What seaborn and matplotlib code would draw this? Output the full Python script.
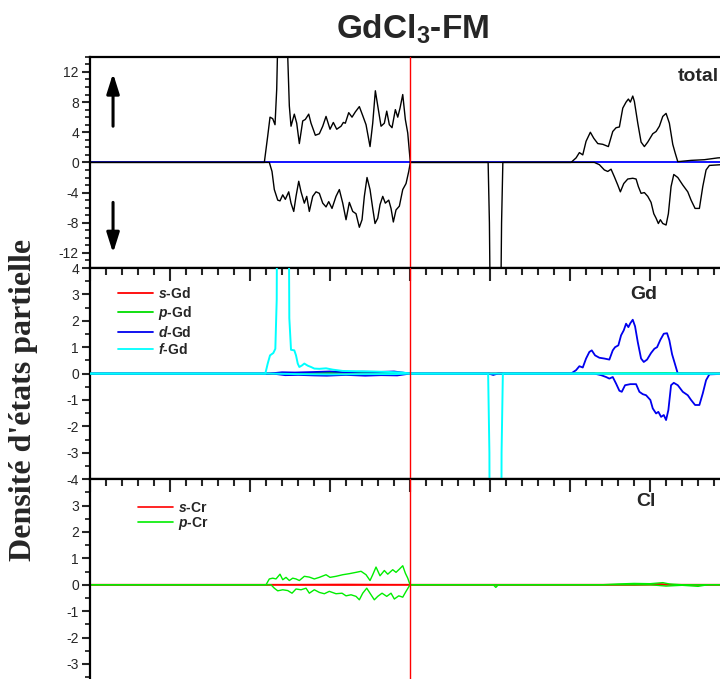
import numpy as np
import matplotlib
matplotlib.use("Agg")
import matplotlib.pyplot as plt
from matplotlib.lines import Line2D
from matplotlib.ticker import MultipleLocator
import seaborn as sns

# energy E - EF (eV) and DOS (states/eV)

# --- total DOS ---
tot_up_e = [-10, -4.553, -4.447, -4.375, -4.291, -4.219, -4.166, -4.134, -4.063, -3.969, -3.875,
            -3.822, -3.772, -3.719, -3.616, -3.541, -3.459, -3.353, -3.272, -3.166, -3.094, -2.959,
            -2.834, -2.728, -2.625, -2.5, -2.397, -2.291, -2.156, -2.084, -2.022, -1.916, -1.813,
            -1.709, -1.584, -1.478, -1.375, -1.25, -1.166, -1.084, -1.009, -0.906, -0.803, -0.728,
            -0.647, -0.563, -0.459, -0.384, -0.313, -0.228, -0.147, -0.072, 0.009,
            5.031, 5.188, 5.291, 5.397, 5.5, 5.634, 5.741, 5.866, 6.022, 6.197, 6.334, 6.438, 6.541,
            6.647, 6.75, 6.822, 6.884, 6.959, 7.009, 7.116, 7.219, 7.322, 7.428, 7.584, 7.688, 7.791,
            7.897, 8.0, 8.103, 8.209, 8.281, 8.366, 8.781, 9.197, 9.616, 10.03]
tot_up = [0, 0, 3.5, 6.0, 5.8, 5.0, 9.7, 16.0, 21.0, 22.0, 19.0,
          14.1, 7.5, 4.8, 6.4, 5.2, 2.5, 5.5, 5.7, 6.4, 5.2, 3.6,
          3.8, 4.8, 6.1, 4.4, 5.3, 4.4, 4.8, 5.3, 5.2, 6.6, 6.0,
          6.7, 7.4, 6.2, 5.0, 2.1, 5.2, 9.5, 7.5, 4.8, 5.2, 6.8,
          5.0, 4.6, 7.0, 6.0, 7.2, 9.0, 5.7, 3.9, 0,
          0, 0.6, 1.3, 1.0, 2.8, 4.0, 3.2, 2.5, 2.4, 2.1, 4.1, 4.6, 4.7,
          7.2, 8.0, 8.4, 8.0, 8.8, 8.1, 5.2, 2.7, 2.1, 2.7, 3.8, 4.1, 4.8,
          6.1, 6.5, 5.2, 2.4, 1.3, 0.1, 0.27, 0.36, 0.6, 0.7]

tot_dn_e = [-10, -4.397, -4.313, -4.241, -4.134, -4.063, -3.978, -3.897, -3.791, -3.719, -3.634,
            -3.563, -3.478, -3.406, -3.303, -3.228, -3.147, -3.041, -2.938, -2.834, -2.728, -2.625,
            -2.541, -2.438, -2.313, -2.209, -2.103, -2.0, -1.897, -1.791, -1.688, -1.584, -1.5,
            -1.428, -1.344, -1.25, -1.166, -1.094, -1.009, -0.938, -0.853, -0.772, -0.666, -0.594,
            -0.522, -0.438, -0.334, -0.228, -0.125, -0.041, 0.009,
            2.44, 2.48, 2.52, 2.82, 2.86, 2.90,
            5.759, 5.916, 6.072, 6.178, 6.281, 6.384, 6.491, 6.572, 6.678, 6.803, 6.959, 7.063,
            7.134, 7.219, 7.322, 7.428, 7.531, 7.616, 7.688, 7.759, 7.822, 7.897, 8.0, 8.072, 8.156,
            8.241, 8.366, 8.522, 8.678, 8.781, 8.906, 9.041, 9.147, 9.25, 9.353, 9.719, 10.03]
tot_dn = [0, 0, -1.2, -3.6, -5.0, -5.1, -4.3, -4.9, -3.9, -5.4, -6.5,
          -4.5, -2.5, -3.9, -5.4, -4.5, -6.5, -4.5, -3.9, -4.1, -5.4, -5.9,
          -5.2, -6.1, -4.5, -3.6, -5.4, -7.6, -5.3, -6.5, -6.8, -8.6, -7.6,
          -4.5, -2.0, -3.6, -6.1, -8.1, -7.4, -5.6, -4.5, -5.4, -5.0, -6.1,
          -7.9, -6.3, -5.8, -3.6, -2.8, -1.2, 0,
          0, -8, -25, -25, -8, 0,
          0, -0.3, -1.0, -1.2, -0.9, -1.9, -3.0, -3.9, -2.8, -2.2, -2.1, -2.2,
          -3.2, -4.1, -4.0, -4.5, -5.3, -6.8, -7.4, -8.1, -7.6, -8.1, -8.3, -6.8, -3.2,
          -1.6, -2.0, -3.0, -3.9, -5.0, -6.1, -6.1, -3.2, -1.0, -0.4, -0.3, -0.3]

# --- Gd partial DOS ---
gd_f_up_e = [-10, -4.522, -4.447, -4.375, -4.272, -4.209, -4.166, -4.134, -4.063, -3.969, -3.875,
             -3.813, -3.772, -3.719, -3.616, -3.563, -3.509, -3.459, -3.375, -3.303, -3.197,
             -3.094, -2.991, -2.834, -2.625, -2.416, -2.103, -1.688, -1.166, -0.647, -0.228, 0.0, 10]
gd_f_up = [0, 0, 0.38, 0.69, 0.78, 0.94, 2.8, 14.0, 18.0, 19.0, 16.0,
           12.0, 2.1, 0.9, 0.88, 0.69, 0.38, 0.25, 0.31, 0.38, 0.30,
           0.25, 0.19, 0.18, 0.20, 0.15, 0.10, 0.09, 0.08, 0.06, 0.04, 0, 0]
gd_f_dn_e = [-10, -4.4, -3.5, -2.5, -1.5, -0.5, 0.0, 2.44, 2.48, 2.52, 2.82, 2.86, 2.90, 10]
gd_f_dn = [0, 0, -0.02, -0.03, -0.02, -0.02, 0, 0, -3, -20, -20, -3, 0, 0]

gd_d_up_e = [-10, -4.4, -4.0, -3.6, -3.0, -2.5, -2.0, -1.5, -1.0, -0.5, 0.0,
             5.031, 5.188, 5.291, 5.397, 5.5, 5.603, 5.678, 5.781, 5.916, 6.072, 6.228, 6.334,
             6.406, 6.509, 6.594, 6.678, 6.75, 6.822, 6.884, 6.959, 7.031, 7.116, 7.219, 7.303,
             7.406, 7.531, 7.634, 7.719, 7.822, 7.928, 8.031, 8.103, 8.188, 8.259, 8.366, 10]
gd_d_up = [0, 0, 0.05, 0.04, 0.06, 0.08, 0.05, 0.07, 0.06, 0.08, 0,
           0, 0.13, 0.28, 0.23, 0.57, 0.82, 0.88, 0.69, 0.60, 0.57, 0.53, 0.88,
           1.0, 1.07, 1.45, 1.64, 1.89, 1.76, 1.91, 2.04, 1.79, 1.19, 0.57, 0.44,
           0.53, 0.78, 0.94, 1.0, 1.28, 1.51, 1.53, 1.26, 0.73, 0.44, 0, 0]
gd_d_dn_e = [-10, -4.3, -3.9, -3.5, -3.0, -2.6, -2.0, -1.4, -0.9, -0.4, 0.0, 2.45, 2.6, 2.75,
             5.759, 5.969, 6.125, 6.228, 6.334, 6.438, 6.541, 6.616, 6.719, 6.884, 7.063, 7.166,
             7.272, 7.375, 7.509, 7.584, 7.688, 7.759, 7.844, 7.928, 8.0, 8.072, 8.156, 8.241,
             8.366, 8.522, 8.678, 8.781, 8.906, 9.041, 9.147, 9.25, 9.353, 10]
gd_d_dn = [0, 0, -0.06, -0.05, -0.07, -0.08, -0.05, -0.08, -0.06, -0.07, 0, 0, -0.05, 0,
           0, -0.06, -0.13, -0.19, -0.13, -0.38, -0.65, -0.69, -0.44, -0.40, -0.40, -0.69,
           -0.78, -0.82, -1.0, -1.32, -1.51, -1.45, -1.64, -1.57, -1.76, -1.38, -0.44, -0.35,
           -0.44, -0.69, -0.82, -1.0, -1.19, -1.19, -0.75, -0.25, -0.03, 0]

gd_s_up_e = [-10, -4.4, -3.0, -1.0, 0.0, 8.5, 9.5, 10]
gd_s_up = [0, 0, 0.02, 0.02, 0, 0, 0.02, 0.02]
gd_s_dn_e = [-10, -4.4, -3.0, -1.0, 0.0, 10]
gd_s_dn = [0, 0, -0.02, -0.02, 0, 0]
gd_p_up_e = [-10, -4.4, -3.0, -1.5, 0.0, 6.5, 8.0, 9.0, 10]
gd_p_up = [0, 0, 0.03, 0.04, 0, 0.02, 0.03, 0.01, 0]
gd_p_dn_e = [-10, -4.4, -3.0, -1.5, 0.0, 2.5, 2.6, 2.7, 10]
gd_p_dn = [0, 0, -0.03, -0.04, 0, 0, -0.04, 0, 0]

# --- Cl partial DOS ---
cl_p_up_e = [-10, -4.5, -4.397, -4.291, -4.188, -4.063, -3.978, -3.875, -3.772, -3.666, -3.563,
             -3.459, -3.303, -3.147, -2.991, -2.834, -2.625, -2.5, -2.313, -2.103, -1.897, -1.688,
             -1.531, -1.375, -1.25, -1.166, -1.063, -0.938, -0.803, -0.697, -0.541, -0.438,
             -0.334, -0.228, -0.147, -0.072, 0.0, 6.0, 6.5, 7.0, 7.5, 7.9, 8.1, 8.5, 10]
cl_p_up = [0, 0, 0.22, 0.25, 0.22, 0.40, 0.19, 0.28, 0.16, 0.25, 0.22,
           0.16, 0.32, 0.29, 0.22, 0.28, 0.38, 0.28, 0.32, 0.38, 0.42, 0.47,
           0.51, 0.38, 0.16, 0.38, 0.67, 0.34, 0.54, 0.40, 0.57, 0.47,
           0.59, 0.72, 0.44, 0.25, 0, 0, 0.03, 0.05, 0.04, 0.08, 0.03, 0, 0]
cl_p_dn_e = [-10, -4.344, -4.241, -4.134, -3.978, -3.822, -3.688, -3.563, -3.406, -3.25, -3.147,
             -2.991, -2.834, -2.678, -2.522, -2.313, -2.125, -2.0, -1.844, -1.688, -1.584,
             -1.478, -1.353, -1.219, -1.116, -1.009, -0.875, -0.728, -0.594, -0.491, -0.353,
             -0.228, -0.125, 0.0, 2.6, 2.68, 2.76, 7.5, 8.0, 8.5, 9.0, 9.3, 10]
cl_p_dn = [0, 0, -0.13, -0.23, -0.19, -0.22, -0.32, -0.16, -0.19, -0.13, -0.32,
           -0.19, -0.29, -0.34, -0.25, -0.34, -0.32, -0.42, -0.38, -0.44, -0.57,
           -0.32, -0.13, -0.38, -0.57, -0.44, -0.32, -0.44, -0.32, -0.54, -0.42,
           -0.47, -0.25, 0, 0, -0.10, 0, 0, -0.05, -0.02, -0.06, 0, 0]
cl_s_up_e = [-10, -4.5, -2.0, 0.0, 7.0, 7.8, 8.2, 10]
cl_s_up = [0, 0, 0.01, 0, 0, 0.03, 0, 0]
cl_s_dn_e = [-10, -4.5, -2.0, 0.0, 10]
cl_s_dn = [0, 0, -0.01, 0, 0]

zero_e = [-10, 10]
zero_v = [0, 0]

sns.set_style("ticks")
plt.rcParams['font.family'] = ['Liberation Sans', 'DejaVu Sans']
plt.rcParams['axes.unicode_minus'] = False
plt.rcParams['mathtext.fontset'] = 'custom'
plt.rcParams['mathtext.rm'] = 'Liberation Sans'
plt.rcParams['mathtext.bf'] = 'Liberation Sans:bold'
plt.rcParams['mathtext.it'] = 'Liberation Sans:italic'
plt.rcParams['mathtext.bfit'] = 'Liberation Sans:bold:italic'


def trace(ax, e, dos, color, lw=1.0, z=2):
    sns.lineplot(x=e, y=dos, ax=ax, color=color, lw=lw, estimator=None,
                 sort=False, legend=False, zorder=z)


def style_panel(ax, ymin, ymax, major, minor, top_ticks=True):
    ax.set_xlim(-10, 10)
    ax.set_ylim(ymin, ymax)
    ax.xaxis.set_major_locator(MultipleLocator(2.5))
    ax.xaxis.set_minor_locator(MultipleLocator(0.5))
    ax.yaxis.set_major_locator(MultipleLocator(major))
    ax.yaxis.set_minor_locator(MultipleLocator(minor))
    ax.set_xlabel("")
    ax.set_ylabel("")
    for s in ax.spines.values():
        s.set_linewidth(1.6)
        s.set_color("black")
    ax.tick_params(axis="y", which="major", direction="out", length=6, width=1.5,
                   labelsize=10, pad=2)
    ax.tick_params(axis="y", which="minor", direction="out", length=3.5, width=1.3)
    ax.tick_params(axis="x", which="both", bottom=False, labelbottom=False,
                   top=top_ticks, labeltop=False, direction="in", width=1.5)
    ax.tick_params(axis="x", which="major", length=9)
    ax.tick_params(axis="x", which="minor", length=5)
    ax.axvline(0, color="red", lw=1.0, zorder=5)


fig = plt.figure(figsize=(7.2, 6.79), dpi=100)
ax1 = fig.add_axes([0.125, 0.6053, 0.889, 0.311])
ax2 = fig.add_axes([0.125, 0.2943, 0.889, 0.311])
ax3 = fig.add_axes([0.125, -0.0167, 0.889, 0.311])

# total
trace(ax1, zero_e, zero_v, "blue", lw=1.3, z=1)
trace(ax1, tot_up_e, tot_up, "black")
trace(ax1, tot_dn_e, tot_dn, "black")
style_panel(ax1, -14, 14, 4, 1, top_ticks=False)
ax1.set_yticks([-12, -8, -4, 0, 4, 8, 12])
ax1.text(9.66, 10.8, "total", ha="right", va="baseline", fontsize=14, fontweight="bold")
arrow = dict(arrowstyle="-|>,head_length=0.6,head_width=0.19", lw=2.2, color="black",
             shrinkA=0, shrinkB=0, mutation_scale=20)
ax1.annotate("", xy=(-9.28, 11.8), xytext=(-9.28, 4.8), arrowprops=arrow)
ax1.annotate("", xy=(-9.28, -12.0), xytext=(-9.28, -5.3), arrowprops=arrow)

# Gd
gd_colors = {"s": "#ff0000", "p": "#00dd00", "d": "#0000ee", "f": "#00ffff"}
trace(ax2, gd_s_up_e, gd_s_up, gd_colors["s"])
trace(ax2, gd_s_dn_e, gd_s_dn, gd_colors["s"])
trace(ax2, gd_p_up_e, gd_p_up, gd_colors["p"])
trace(ax2, gd_p_dn_e, gd_p_dn, gd_colors["p"])
trace(ax2, gd_d_up_e, gd_d_up, gd_colors["d"], lw=1.3)
trace(ax2, gd_d_dn_e, gd_d_dn, gd_colors["d"], lw=1.3)
trace(ax2, gd_f_up_e, gd_f_up, gd_colors["f"], lw=1.4, z=3)
trace(ax2, gd_f_dn_e, gd_f_dn, gd_colors["f"], lw=1.4, z=3)
style_panel(ax2, -4, 4, 1, 0.5)
ax2.text(7.31, 2.82, "Gd", ha="center", va="baseline", fontsize=14, fontweight="bold")
gd_handles = [Line2D([], [], color=gd_colors[k], lw=1.3) for k in "spdf"]
gd_labels = [r"$\mathbfit{%s}$-Gd" % k for k in "spdf"]
ax2.legend(gd_handles, gd_labels, loc="upper left", bbox_to_anchor=(0.044, 0.915),
           frameon=False, borderpad=0, borderaxespad=0, handlelength=2.5,
           handletextpad=0.36, labelspacing=0.2, prop={"weight": "bold", "size": 10})

# Cl
trace(ax3, cl_s_up_e, cl_s_up, "#ff0000", lw=1.2)
trace(ax3, cl_s_dn_e, cl_s_dn, "#ff0000", lw=1.2)
trace(ax3, cl_p_up_e, cl_p_up, "#00ee00")
trace(ax3, cl_p_dn_e, cl_p_dn, "#00ee00")
style_panel(ax3, -4, 4, 1, 0.5)
ax3.set_yticks([-3, -2, -1, 0, 1, 2, 3])
ax3.text(7.375, 2.97, "Cl", ha="center", va="baseline", fontsize=14, fontweight="bold")
cl_handles = [Line2D([], [], color="#ff0000", lw=1.2), Line2D([], [], color="#00ee00", lw=1.2)]
cl_labels = [r"$\mathbfit{s}$-Cr", r"$\mathbfit{p}$-Cr"]
ax3.legend(cl_handles, cl_labels, loc="upper left", bbox_to_anchor=(0.075, 0.897),
           frameon=False, borderpad=0, borderaxespad=0, handlelength=2.5,
           handletextpad=0.36, labelspacing=0.0, prop={"weight": "bold", "size": 10})

fig.text(413 / 720, 1 - 39 / 679, r"GdCl$_\mathbf{3}$-FM", ha="center", va="baseline",
         fontsize=24, fontweight="bold")
fig.text(24 / 720, 1 - 400 / 679, "Densité d'états partielle", rotation=90, ha="center",
         va="center", fontsize=23, fontweight="bold", family=["Liberation Serif", "DejaVu Serif"])

fig.savefig("out.png", dpi=100)
